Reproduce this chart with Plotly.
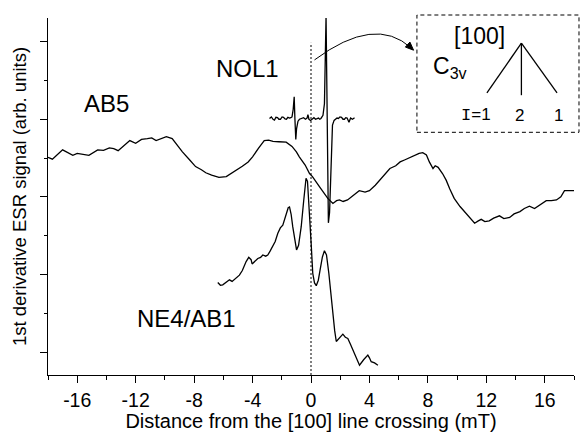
import plotly.graph_objects as go

# ---- data (x in mT, y in arbitrary units) ----
ab5_x = [-18.0, -17.7, -17.0, -16.6, -16.3, -16.0, -15.6, -15.2, -14.6, -14.2, -13.8, -13.5, -13.2,
         -12.8, -12.4, -12.0, -11.6, -11.2, -10.9, -10.6, -10.2, -9.9, -9.5, -9.2, -8.8, -8.3, -7.9,
         -7.5, -7.2, -6.8, -6.3, -5.8, -5.4, -5.0, -4.7, -4.3, -4.0, -3.6, -3.2, -2.9, -2.6, -2.2,
         -1.7, -1.3, -1.0, -0.8, -0.4, -0.1, 0.1, 0.6, 1.15, 1.5, 1.75, 1.95, 2.2, 2.5, 2.9, 3.3,
         3.7, 4.0, 4.4, 4.7, 5.1, 5.4, 5.8, 6.1, 6.4, 6.75, 7.1, 7.4, 7.65, 7.9, 8.1, 8.35, 8.5,
         8.7, 9.0, 9.25, 9.5, 9.8, 10.2, 10.6, 10.9, 11.2, 11.45, 11.65, 11.9, 12.2, 12.5, 12.9,
         13.2, 13.6, 13.9, 14.3, 14.6, 14.95, 15.3, 15.7, 16.1, 16.45, 16.8, 17.1, 17.35, 17.7, 18.0]
ab5_y = [5.02, 4.97, 5.21, 5.12, 5.07, 5.12, 5.09, 5.07, 5.21, 5.2, 5.26, 5.24, 5.19,
         5.33, 5.45, 5.38, 5.48, 5.5, 5.52, 5.45, 5.5, 5.55, 5.5, 5.34, 5.16, 4.95, 4.78,
         4.7, 4.62, 4.56, 4.50, 4.52, 4.62, 4.7, 4.79, 4.9, 5.03, 5.25, 5.45, 5.46, 5.43, 5.42,
         5.41, 5.3, 5.16, 5.03, 4.82, 4.60, 4.52, 4.25, 3.96, 3.83, 3.9, 3.92, 3.88, 3.92, 4.05, 4.16,
         4.12, 4.16, 4.3, 4.43, 4.58, 4.73, 4.8, 4.90, 4.95, 5.01, 5.05, 5.12, 5.14, 5.08, 4.9, 4.73, 4.8,
         4.76, 4.6, 4.43, 4.2, 3.96, 3.75, 3.57, 3.45, 3.32, 3.38, 3.42, 3.36, 3.38, 3.45, 3.51,
         3.44, 3.47, 3.56, 3.62, 3.7, 3.76, 3.70, 3.8, 3.90, 3.9, 3.92, 4.0, 4.16, 4.16, 4.16]

nol1_x = [-2.84, -2.71, -2.6, -2.50, -2.4, -2.29, -2.2, -2.09, -1.98, -1.88, -1.78, -1.68, -1.58, -1.47,
          -1.38, -1.30, -1.22, -1.15, -1.10, -1.04, -0.99, -0.94, -0.89, -0.79, -0.65, -0.51, -0.38,
          -0.27, -0.21, -0.14, -0.03, 0.10, 0.2, 0.31, 0.42, 0.51, 0.6, 0.68, 0.82, 0.92, 1.03, 1.19,
          1.27, 1.34, 1.40, 1.47, 1.58, 1.68, 1.78, 1.88, 1.98, 2.09, 2.19, 2.29, 2.38, 2.47, 2.60,
          2.71, 2.84, 2.98]
nol1_y = [6.02, 6.06, 6.0, 5.98, 6.05, 6.04, 6.0, 6.00, 6.06, 6.05, 6.01, 6.00, 6.05, 6.03,
          6.04, 6.06, 6.25, 6.58, 6.0, 5.48, 5.75, 5.88, 5.95, 6.0, 6.02, 6.04, 6.0,
          6.03, 6.12, 6.0, 5.97, 6.02, 6.04, 6.0, 6.02, 6.03, 6.0, 6.02, 6.10, 6.4, 8.66, 3.33,
          3.6, 4.5, 5.5, 5.85, 5.97, 6.0, 6.03, 6.02, 6.06, 6.05, 6.0, 6.0, 6.04, 6.03, 5.92,
          6.03, 6.0, 6.04]

ne4_x = [-6.38, -6.2, -6.04, -5.8, -5.58, -5.4, -5.24, -5.05, -4.90, -4.7, -4.55, -4.44, -4.26, -4.1,
         -4.03, -3.85, -3.64, -3.45, -3.30, -3.1, -2.96, -2.8, -2.62, -2.45, -2.27, -2.1, -1.93, -1.8,
         -1.68, -1.56, -1.47, -1.36, -1.25, -1.1, -0.99, -0.85, -0.67, -0.5, -0.34, -0.24, -0.15,
         -0.06, 0.01, 0.12, 0.24, 0.36, 0.5, 0.62, 0.78, 0.92, 1.06, 1.22, 1.36, 1.49, 1.62, 1.73,
         1.95, 2.18, 2.35, 2.52, 2.7, 2.86, 3.1, 3.32, 3.6, 3.89, 4.0, 4.12, 4.35, 4.58]
ne4_y = [1.79, 1.72, 1.73, 1.8, 1.86, 1.82, 1.87, 1.92, 1.98, 2.1, 2.25, 2.33, 2.44, 2.38,
         2.27, 2.33, 2.41, 2.44, 2.50, 2.47, 2.50, 2.6, 2.73, 2.85, 3.06, 3.2, 3.27, 3.45,
         3.61, 3.72, 3.74, 3.55, 3.23, 2.8, 2.63, 2.75, 3.23, 3.9, 4.48, 4.4, 3.92,
         3.3, 2.80, 2.03, 1.78, 1.71, 1.85, 2.11, 2.45, 2.61, 2.5, 2.03, 1.45, 1.00, 0.55, 0.27,
         0.35, 0.46, 0.38, 0.35, 0.2, 0.05, -0.15, -0.34, -0.2, -0.08, -0.15, -0.25, -0.28, -0.34]

x_major = [-16, -12, -8, -4, 0, 4, 8, 12, 16]
x_tick_labels = ["-16", "-12", "-8", "-4", "0", "4", "8", "12", "16"]

FONT = "Liberation Sans, Arial, Helvetica, sans-serif"
LINE = dict(color="black", width=1.3)

fig = go.Figure()
for xs, ys in [(ab5_x, ab5_y), (nol1_x, nol1_y), (ne4_x, ne4_y)]:
    fig.add_trace(go.Scatter(x=xs, y=ys, mode="lines", line=LINE, showlegend=False,
                             hoverinfo="skip"))

fig.update_layout(
    width=583, height=432,
    margin=dict(l=48, r=9, t=18, b=57, autoexpand=False),
    paper_bgcolor="white", plot_bgcolor="white",
    font=dict(family=FONT, color="black"),
    showlegend=False,
)
fig.update_xaxes(
    range=[-18, 18], showgrid=False, zeroline=False,
    showline=True, linecolor="black", linewidth=1.3,
    ticks="outside", ticklen=7, tickwidth=1.2, tickcolor="black",
    tickmode="array", tickvals=x_major, ticktext=x_tick_labels,
    tickfont=dict(size=19.5, family=FONT),
    minor=dict(ticks="outside", ticklen=3.5, tickwidth=1.2, tickcolor="black",
               tickmode="linear", tick0=0, dtick=2, showgrid=False),
    title=dict(text="Distance from the [100] line crossing (mT)",
               font=dict(size=20, family=FONT), standoff=5),
)
fig.update_yaxes(
    range=[-0.593, 8.61], showgrid=False, zeroline=False,
    showline=True, linecolor="black", linewidth=1.3,
    ticks="outside", ticklen=7, tickwidth=1.2, tickcolor="black",
    tickmode="linear", tick0=0, dtick=2, showticklabels=False,
    minor=dict(ticks="outside", ticklen=3, tickwidth=1.2, tickcolor="black",
               tickmode="linear", tick0=1, dtick=2, showgrid=False),
    title=dict(text="1st derivative ESR signal (arb. units)",
               font=dict(size=18.5, family=FONT), standoff=8),
)

# dashed zero line
fig.add_shape(type="line", xref="x", yref="y", x0=0, x1=0, y0=-0.593, y1=7.97,
              line=dict(color="black", width=1, dash="2px,2px"))

# inset box
fig.add_shape(type="rect", xref="paper", yref="paper", x0=0.7014, x1=1.0095, y0=0.6798, y1=1.0084,
              line=dict(color="black", width=1, dash="4px,3px"))
# C3v splitting tree
fig.add_shape(type="line", xref="x", yref="y", x0=14.40, y0=7.96, x1=12.04, y1=6.68, line=LINE)
fig.add_shape(type="line", xref="x", yref="y", x0=14.40, y0=7.96, x1=14.40, y1=6.62, line=LINE)
fig.add_shape(type="line", xref="x", yref="y", x0=14.40, y0=7.96, x1=16.84, y1=6.68, line=LINE)

# curved arrow with head
fig.add_shape(type="path", xref="x", yref="y", path="M 0.24,7.53 Q 4.38,8.69 6.85,7.84",
              line=dict(color="black", width=1))
fig.add_shape(type="path", xref="x", yref="y", path="M 7.02,7.78 L 6.46,7.86 L 6.77,7.99 Z",
              line=dict(color="black", width=1), fillcolor="black")

def label(txt, x, y, size, **kw):
    fig.add_annotation(x=x, y=y, xref="x", yref="y", text=txt, showarrow=False,
                       font=dict(size=size, family=kw.pop("family", FONT), color="black"), **kw)

label("AB5", -14.0, 6.41, 24)
label("NOL1", -4.38, 7.32, 24)
label("NE4/AB1", -8.49, 0.87, 24)
label("[100]", 11.55, 8.14, 23)
label("C<sub>3v</sub>", 8.2, 7.34, 23, xanchor="left")
label("<span style='font-family:Liberation Mono'>I</span>=1", 11.3, 6.1, 17)
label("2", 14.3, 6.1, 17)
label("1", 16.95, 6.1, 17)

fig.write_html("out.html", config={"displayModeBar": False},
               post_script="document.body.style.margin='0';document.body.style.padding='0';")
